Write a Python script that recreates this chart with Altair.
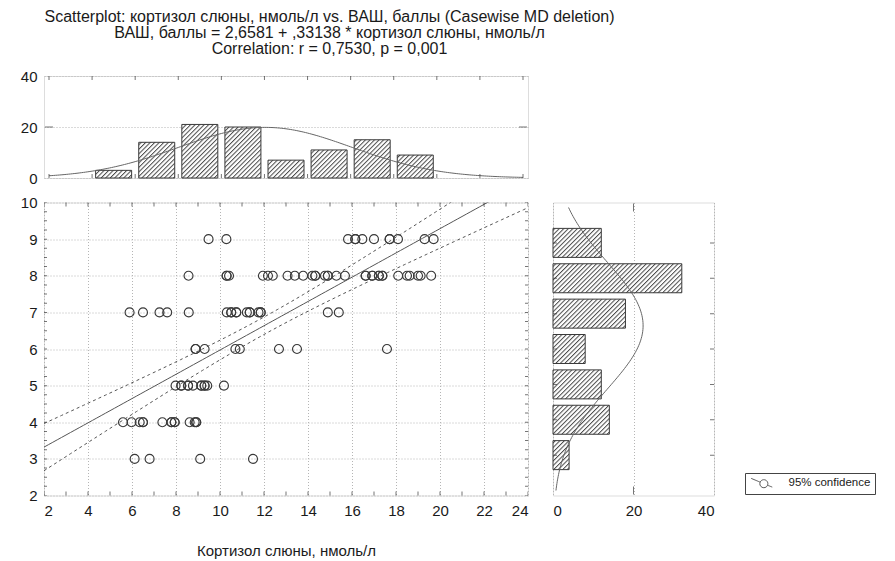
import altair as alt
import numpy as np
import pandas as pd

# ---------------- text ----------------
TITLE_LINES = [
    "Scatterplot: кортизол слюны, нмоль/л vs. ВАШ, баллы (Casewise MD deletion)",
    "ВАШ, баллы = 2,6581 + ,33138 * кортизол слюны, нмоль/л",
    "Correlation: r = 0,7530, p = 0,001",
]
X_TITLE = "Кортизол слюны, нмоль/л"
LEGEND_LABEL = "95% confidence"
INTERCEPT = 2.6581
SLOPE = 0.33138
T975 = 1.9845  # Student t, 98 df

# ---------------- data: cortisol values grouped by VAS score ----------------
VAS_LEVELS = [9, 8, 7, 6, 5, 4, 3]
X_AT_VAS9 = [9.48, 10.29, 15.82, 16.15, 16.15, 16.47, 17.0, 17.71, 17.71, 18.09, 19.3, 19.71]
X_AT_VAS8 = [8.57, 10.3, 10.3, 10.41, 11.95, 12.18, 12.4, 13.07, 13.4, 13.78, 14.2, 14.33,
             14.33, 14.77, 14.9, 14.9, 15.29, 15.68, 16.62, 16.62, 16.92, 16.92, 17.22, 17.22,
             17.38, 17.38, 18.1, 18.5, 18.62, 19.0, 19.12, 19.6]
X_AT_VAS7 = [5.89, 6.5, 7.25, 7.6, 8.58, 10.31, 10.51, 10.51, 10.74, 10.74, 11.22, 11.35,
             11.35, 11.75, 11.85, 11.85, 14.9, 15.4]
X_AT_VAS6 = [8.89, 8.89, 9.3, 10.7, 10.9, 12.68, 13.5, 17.59]
X_AT_VAS5 = [7.98, 8.24, 8.24, 8.55, 8.55, 8.77, 9.15, 9.15, 9.3, 9.3, 9.42, 10.18]
X_AT_VAS4 = [5.59, 5.98, 6.35, 6.5, 6.5, 7.38, 7.79, 7.79, 7.94, 7.94, 8.62, 8.85, 8.92, 8.92]
X_AT_VAS3 = [6.12, 6.8, 9.1, 11.5]

X_TICKS = list(range(2, 25, 2))
Y_TICKS = list(range(2, 11))
COUNT_TICKS = [0, 20, 40]
HIST_X_EDGES = [4, 6, 8, 10, 12, 14, 16, 18, 20]

# ---------------- derived tables ----------------
rows = []
for lvl, xs in zip(VAS_LEVELS, [X_AT_VAS9, X_AT_VAS8, X_AT_VAS7, X_AT_VAS6,
                                X_AT_VAS5, X_AT_VAS4, X_AT_VAS3]):
    for v in xs:
        rows.append((v, lvl))
pts = pd.DataFrame(rows, columns=["x", "y"])
n = len(pts)

top_counts = np.histogram(pts["x"], bins=HIST_X_EDGES)[0]
top_df = pd.DataFrame({
    "x": [(a + b) / 2 for a, b in zip(HIST_X_EDGES[:-1], HIST_X_EDGES[1:])],
    "n": top_counts,
})
side_df = pts.groupby("y").size().reset_index(name="n")

xbar, sx = pts["x"].mean(), pts["x"].std(ddof=1)
ybar, sy = pts["y"].mean(), pts["y"].std(ddof=1)
sxx = ((pts["x"] - xbar) ** 2).sum()
resid = pts["y"] - (INTERCEPT + SLOPE * pts["x"])
s_e = np.sqrt((resid ** 2).sum() / (n - 2))

gx = np.linspace(2, 24, 111)
fit = INTERCEPT + SLOPE * gx
hw = T975 * s_e * np.sqrt(1.0 / n + (gx - xbar) ** 2 / sxx)
line_df = pd.DataFrame({"x": gx, "y": fit})
band_df = pd.concat([
    pd.DataFrame({"x": gx, "y": fit + hw, "side": "upper", "lbl": LEGEND_LABEL}),
    pd.DataFrame({"x": gx, "y": fit - hw, "side": "lower", "lbl": LEGEND_LABEL}),
])

def npdf(v, m, s):
    return np.exp(-0.5 * ((v - m) / s) ** 2) / (s * np.sqrt(2 * np.pi))

cx = np.linspace(2, 24, 221)
top_curve = pd.DataFrame({"x": cx, "n": n * 2 * npdf(cx, xbar, sx)})
cy = np.linspace(2, 10, 161)
side_curve = pd.DataFrame({"y": cy, "n": n * 1 * npdf(cy, ybar, sy)})

# ---------------- style ----------------
FONT = "Liberation Sans"
INK = "#3a3a3a"
TXT = "#1a1a1a"
HATCH = "url(#hatch) #c4c4c4"
W_MAIN, H_MAIN, W_SIDE, H_TOP = 484, 293, 161, 102

x_sc = alt.Scale(domain=[2, 24], nice=False, zero=False)
y_sc = alt.Scale(domain=[2, 10], nice=False, zero=False)
c_sc = alt.Scale(domain=[0, 40], nice=False, zero=False)

AX = dict(labelFont=FONT, labelFontSize=15, labelColor=TXT, ticks=False, domain=False,
          grid=True, gridColor="#b5b5b5", gridDash=[1, 2], gridWidth=1)

# one axis object per view channel, reused by every layer of that view
AX_SCATTER_X = alt.Axis(values=X_TICKS, title=X_TITLE, labelFlush=True, labelPadding=8,
                        titlePadding=25, titleFont=FONT, titleFontSize=15,
                        titleFontWeight="normal", titleColor=TXT, **AX)
AX_SCATTER_Y = alt.Axis(values=Y_TICKS, title=None, labelPadding=7, minExtent=30,
                        maxExtent=30, **AX)
AX_SIDE_X = alt.Axis(values=COUNT_TICKS, title=None, labelFlush=True, labelPadding=8, **AX)
AX_TOP_Y = alt.Axis(values=COUNT_TICKS, title=None, labelPadding=7, minExtent=30,
                    maxExtent=30, **AX)


def vticks(xvals, yedges, scx, scy, axx, axy, size):
    d = pd.DataFrame([(a, b) for a in xvals for b in yedges], columns=["x", "y"])
    return alt.Chart(d).mark_tick(orient="vertical", size=size, thickness=1, color=INK,
                                  clip=True).encode(
        x=alt.X("x:Q", scale=scx, axis=axx), y=alt.Y("y:Q", scale=scy, axis=axy))


def hticks(yvals, xedges, scx, scy, axx, axy, size):
    d = pd.DataFrame([(a, b) for a in xedges for b in yvals], columns=["x", "y"])
    return alt.Chart(d).mark_tick(orient="horizontal", size=size, thickness=1, color=INK,
                                  clip=True).encode(
        x=alt.X("x:Q", scale=scx, axis=axx), y=alt.Y("y:Q", scale=scy, axis=axy))


# ---------------- scatter ----------------
SX = alt.X("x:Q", scale=x_sc, axis=AX_SCATTER_X)
SY = alt.Y("y:Q", scale=y_sc, axis=AX_SCATTER_Y)
points = alt.Chart(pts).mark_point(shape="circle", filled=False, size=80, color=INK,
                                   strokeWidth=1.15, opacity=1, clip=True).encode(x=SX, y=SY)
fit_line = alt.Chart(line_df).mark_line(color="#555555", strokeWidth=1, clip=True).encode(
    x=SX, y=SY)

LEG_PATH = ("M-2.1,-0.87L-0.32,-0.12M1.16,0.5L2.1,0.87"
            "M1.22,0.19A0.8,0.8,0,1,1,-0.38,0.19A0.8,0.8,0,1,1,1.22,0.19")
bands = alt.Chart(band_df).mark_line(strokeWidth=1, strokeDash=[3, 3], clip=True).encode(
    x=SX, y=SY, detail="side:N",
    color=alt.Color("lbl:N", scale=alt.Scale(range=["#555555"]), legend=alt.Legend(
        title=None, orient="none", legendX=701, legendY=397, symbolType=LEG_PATH, symbolSize=100,
        symbolStrokeColor="#444444", symbolFillColor="transparent", symbolStrokeWidth=1,
        symbolDash=[1, 0], labelFont=FONT, labelFontSize=11.5, labelColor=TXT,
        strokeColor="#444444", fillColor="white", padding=4, symbolOffset=7, labelOffset=21)),
)
scatter = alt.layer(
    points, fit_line, bands,
    vticks(list(range(2, 25)), [2, 10], x_sc, y_sc, AX_SCATTER_X, AX_SCATTER_Y, 8),
    hticks(list(np.arange(2, 10.01, 0.25)), [2, 24], x_sc, y_sc, AX_SCATTER_X, AX_SCATTER_Y, 6),
).properties(width=W_MAIN, height=H_MAIN)

# ---------------- right histogram ----------------
RX = alt.X("n:Q", scale=c_sc, axis=AX_SIDE_X)
RY = alt.Y("y:Q", scale=y_sc, axis=None)
side_bars = alt.Chart(side_df).mark_bar(
    orient="horizontal", size=29, fill=HATCH, stroke=INK, strokeWidth=1).encode(x=RX, y=RY)
side_line = alt.Chart(side_curve).mark_line(color="#666666", strokeWidth=1, clip=True).encode(
    x=RX, y=RY, order="y:Q")
side_tick_h = pd.DataFrame([(a, b) for a in [0, 40] for b in VAS_LEVELS], columns=["n", "y"])
side_tick_v = pd.DataFrame([(20, b) for b in [2, 10]], columns=["n", "y"])
side = alt.layer(
    side_bars, side_line,
    alt.Chart(side_tick_h).mark_tick(orient="horizontal", size=8, thickness=1, color=INK,
                                     clip=True).encode(x=RX, y=RY),
    alt.Chart(side_tick_v).mark_tick(orient="vertical", size=8, thickness=1, color=INK,
                                     clip=True).encode(x=RX, y=RY),
).properties(width=W_SIDE, height=H_MAIN)

# ---------------- top histogram ----------------
TX = alt.X("x:Q", scale=x_sc, axis=None)
TY = alt.Y("n:Q", scale=c_sc, axis=AX_TOP_Y)
top_bars = alt.Chart(top_df).mark_bar(orient="vertical", size=36, fill=HATCH, stroke=INK,
                                      strokeWidth=1).encode(x=TX, y=TY)
top_line = alt.Chart(top_curve).mark_line(color="#666666", strokeWidth=1, clip=True).encode(
    x=TX, y=TY)
top_tick_v = pd.DataFrame([(a, b) for a in X_TICKS for b in [0, 40]], columns=["x", "n"])
top_tick_h = pd.DataFrame([(a, 20) for a in [2, 24]], columns=["x", "n"])
top = alt.layer(
    top_bars, top_line,
    alt.Chart(top_tick_v).mark_tick(orient="vertical", size=8, thickness=1, color=INK,
                                    clip=True).encode(x=TX, y=TY),
    alt.Chart(top_tick_h).mark_tick(orient="horizontal", size=8, thickness=1, color=INK,
                                    clip=True).encode(x=TX, y=TY),
).properties(width=W_MAIN, height=H_TOP)

chart = alt.vconcat(
    top, alt.hconcat(scatter, side, spacing=23), spacing=7.5,
).properties(
    title=alt.TitleParams(text=TITLE_LINES, anchor="start", align="center", dx=316,
                          font=FONT, fontSize=16, fontWeight="normal", color=TXT,
                          lineHeight=16, offset=11.5),
    padding={"left": 5, "top": 1, "right": 0, "bottom": 2},
).configure_view(stroke=INK, strokeWidth=1).configure(font=FONT)

HATCH_DEFS = ('<svg width="0" height="0" style="position:absolute" aria-hidden="true"><defs>'
              '<pattern id="hatch" patternUnits="userSpaceOnUse" width="3.2" height="3.2" '
              'patternTransform="rotate(45)"><rect width="3.2" height="3.2" fill="#ffffff"/>'
              '<line x1="0.5" y1="0" x2="0.5" y2="3.2" stroke="#4a4a4a" stroke-width="1"/>'
              '</pattern></defs></svg>')


class HatchTemplate:
    def __init__(self, base):
        self.base = base

    def render(self, **kw):
        return self.base.render(**kw).replace("<body>", "<body>" + HATCH_DEFS, 1)


EMBED = {"renderer": "svg", "actions": False}
try:
    from altair.utils import html as alt_html
    chart.save("out.html", embed_options=EMBED,
               template=HatchTemplate(alt_html.TEMPLATES["standard"]))
except Exception:
    chart.save("out.html", embed_options=EMBED)
